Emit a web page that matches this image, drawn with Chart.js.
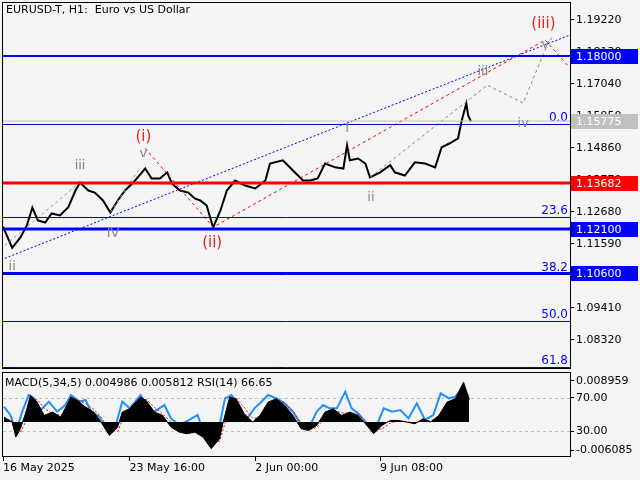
<!DOCTYPE html>
<html><head><meta charset="utf-8">
<script src="https://cdn.jsdelivr.net/npm/chart.js@4/dist/chart.umd.min.js"></script>
<style>
body{margin:0;background:#f4f4f4;width:640px;height:480px;overflow:hidden}
#main{position:absolute;left:0;top:0}
#sub{position:absolute;left:0;top:370px}
</style></head><body>
<canvas id="main" width="640" height="370"></canvas>
<canvas id="sub" width="640" height="110"></canvas>
<script>
// hourly bar index / close price
var priceBars = [0,10,19,26,32,38,46,53,62,71,79,84,93,100,109,117,125,133,142,155,162,171,179,184,193,202,209,215,222,229,237,244,253,264,275,286,291,305,316,327,335,343,351,362,371,375,378,387,395,400,411,422,427,438,449,460,471,478,487,496,500,505,507,510];
var prices = [1.1218,1.1146,1.1181,1.1222,1.1283,1.1239,1.1232,1.1263,1.1256,1.1283,1.1341,1.1368,1.1341,1.1334,1.1307,1.1266,1.1307,1.1341,1.1368,1.1416,1.1382,1.1382,1.1403,1.1365,1.1341,1.1334,1.1314,1.1307,1.1290,1.1215,1.1273,1.1341,1.1375,1.1358,1.1348,1.1375,1.1433,1.1444,1.1409,1.1375,1.1375,1.1382,1.1433,1.1420,1.1416,1.1495,1.1444,1.1450,1.1433,1.1386,1.1403,1.1427,1.1403,1.1392,1.1437,1.1433,1.1420,1.1488,1.1502,1.1519,1.1580,1.1638,1.1597,1.1577];

var macdBars = [1,10,14,19,25,30,37,45,54,63,74,81,90,99,108,116,125,130,138,150,156,165,174,183,192,200,209,218,227,236,240,247,254,263,272,280,289,298,307,316,325,333,342,351,360,369,378,387,395,404,413,422,431,440,449,458,466,475,484,493,502,508];
var macdHist = [1.09,0,-3.27,-1.45,2.18,5.82,4.36,1.45,2.18,1.09,5.45,4.73,3.27,2.18,-0.36,-2.91,-1.09,2.18,2.91,5.45,4.73,2.18,1.45,-1.09,-2.18,-2.54,-2.18,-3.27,-5.8,-3.64,0,5.45,5.09,1.82,0,1.45,4.36,5.09,3.64,1.45,-1.45,-1.82,-0.73,2.18,2.91,1.45,2.18,1.45,-0.36,-2.54,-0.73,0.36,0.36,0,-0.36,0.73,0,1.45,4.36,5.09,8.7,5.0];
var macdSignal = [0.6,0.4,-1.8,-2.2,0.2,3.8,5.0,3.0,1.8,1.5,3.8,4.9,4.0,2.8,0.8,-1.8,-2.0,0.4,2.4,4.4,5.0,3.2,1.8,0.0,-1.6,-2.4,-2.3,-2.8,-4.2,-4.2,-1.6,3.4,5.2,3.2,0.8,0.9,3.2,4.8,4.2,2.4,-0.2,-1.6,-1.2,1.0,2.6,2.0,1.9,1.7,0.2,-1.8,-1.5,-0.2,0.3,0.1,-0.2,0.4,0.3,0.9,3.2,4.8,7.2,5.8];
var rsiBars = [1,8,14,21,28,34,41,50,59,68,74,83,90,96,105,114,123,130,138,150,156,165,176,183,192,203,212,218,227,236,242,249,258,265,274,280,289,298,307,316,325,333,342,349,356,364,373,380,387,395,402,409,415,424,433,442,451,460,469,477,486,493,502,508];
var rsiValues = [59.4,49.4,29.3,53.4,73.5,69.5,55.4,65.5,53.4,61.4,73.5,65.5,67.5,53.4,47.4,29.3,37.3,65.5,57.4,73.5,61.4,53.4,61.4,45.4,37.3,43.4,49.4,31.3,39.4,37.3,69.5,73.5,59.4,43.4,57.4,63.5,73.5,69.5,63.5,53.4,37.3,33.3,53.4,61.4,57.4,57.4,77.5,57.4,51.4,41.4,33.3,41.4,57.4,53.4,55.4,45.4,63.5,43.4,49.4,75.5,69.5,71.5,83.5,67.5];

var priceTicks = [1.0832,1.0941,1.1050,1.1159,1.1268,1.1377,1.1486,1.1595,1.1704,1.1813,1.1922];
var timeTicks = [0,138,275,411];
var timeLabels = ['16 May 2025','23 May 16:00','2 Jun 00:00','9 Jun 08:00'];

// wave markup lines: [bar, price]
var channelLine = [[2,1.1110],[618,1.1871]];
var redWave = [[155,1.1485],[229,1.1216],[591,1.1854],[616,1.1765]];
var grayProjection = [[400,1.1386],[528,1.1700],[567,1.1639],[593,1.1837],[600,1.1870]];
var grayWave1 = [[2,1.1154],[84,1.1369]];
var grayWave2 = [[117,1.1267],[149,1.1417]];
var waveLabels = [
  [10,1.1082,'ii','#8a7f70',13],[84,1.1427,'iii','#8a7f70',13],[120,1.1195,'IV','#8a8a8a',13],
  [153,1.1523,'(i)','#e8231e',15],[153,1.1468,'v','#8a7f70',13],[228,1.1161,'(ii)','#e8231e',15],
  [375,1.1553,'I','#7b9a90',13],[401,1.1318,'ii','#6f948a',13],[523,1.1745,'iii','#8a7f70',13],
  [567,1.1570,'iv','#7d8fa0',13],[591,1.1837,'v','#8a8a8a',13],[589,1.1908,'(iii)','#e8231e',15]
];
// levels: price, colour, width, box colour
var levelLines = [
  [1.18000,'#0000ff',2,'#0000ff'],[1.15775,'#c0c0c0',1,'#c0c0c0'],[1.13682,'#ff0000',3,'#ff0000'],
  [1.12100,'#0000ff',3,'#0000ff'],[1.10600,'#0000ff',2,'#0000ff']
];
var fibLevels = [[1.1568,'0.0'],[1.1250,'23.6'],[1.1056,'38.2'],[1.0896,'50.0'],[1.0739,'61.8']];

var FONT = 'DejaVu Sans';
function pts(a){ return a.map(function(p){ return {x:p[0], y:p[1]}; }); }
function zip(xs, ys, k){ return xs.map(function(x,i){ return {x:x, y:ys[i]*(k||1)}; }); }
function noEdgePad(s){ s.width=70; s.paddingTop=0; s.paddingBottom=0; }

var mainOverlay = {
  id:'mainOverlay',
  beforeDraw: function(c){
    var ctx=c.ctx; ctx.save(); ctx.fillStyle='#f4f4f4'; ctx.fillRect(0,0,c.width,c.height); ctx.restore();
  },
  afterDatasetsDraw: function(c){
    var ctx=c.ctx, a=c.chartArea, ys=c.scales.y, xs=c.scales.x;
    ctx.save();
    fibLevels.forEach(function(f){
      var y=Math.round(ys.getPixelForValue(f[0]))+0.5;
      ctx.strokeStyle='#0000cc'; ctx.lineWidth=1;
      ctx.beginPath(); ctx.moveTo(a.left,y); ctx.lineTo(a.right,y); ctx.stroke();
      ctx.fillStyle='#0000ff'; ctx.font='12px '+FONT; ctx.textAlign='right'; ctx.textBaseline='bottom';
      ctx.fillText(f[1], a.right-2, y-1);
    });
    levelLines.forEach(function(l){
      var y=Math.round(ys.getPixelForValue(l[0]));
      ctx.strokeStyle=l[1]; ctx.lineWidth=l[2];
      ctx.beginPath(); ctx.moveTo(a.left,y); ctx.lineTo(a.right,y); ctx.stroke();
      ctx.fillStyle=l[3]; ctx.fillRect(a.right+1,y-7,67,15);
      ctx.fillStyle='#ffffff'; ctx.font='11px '+FONT; ctx.textAlign='left'; ctx.textBaseline='middle';
      ctx.fillText(l[0].toFixed(5), a.right+6, y+1);
    });
    waveLabels.forEach(function(w){
      ctx.fillStyle=w[3]; ctx.font=w[4]+'px '+FONT; ctx.textAlign='center'; ctx.textBaseline='middle';
      ctx.fillText(w[2], xs.getPixelForValue(w[0]), ys.getPixelForValue(w[1]));
    });
    ctx.strokeStyle='#000'; ctx.lineWidth=1;
    ctx.strokeRect(a.left-0.5,a.top-0.5,a.right-a.left+1,a.bottom-a.top+1);
    ctx.fillStyle='#000'; ctx.font='11px '+FONT; ctx.textAlign='left'; ctx.textBaseline='top';
    ctx.fillText('EURUSD-T, H1:  Euro vs US Dollar', 6, 5);
    ctx.restore();
  }
};

new Chart(document.getElementById('main'), {
  type:'line',
  data:{ datasets:[
    {data:pts(channelLine), borderColor:'#0000ff', borderWidth:1, borderDash:[2,2], pointRadius:0},
    {data:pts(redWave), borderColor:'#ff0000', borderWidth:1, borderDash:[3,3], pointRadius:0},
    {data:pts(grayProjection), borderColor:'#888', borderWidth:1, borderDash:[3,3], pointRadius:0},
    {data:pts(grayWave1), borderColor:'#999', borderWidth:1, borderDash:[3,3], pointRadius:0},
    {data:pts(grayWave2), borderColor:'#999', borderWidth:1, borderDash:[3,3], pointRadius:0},
    {data:zip(priceBars, prices), borderColor:'#000', borderWidth:2, pointRadius:0, tension:0}
  ]},
  options:{
    responsive:false, animation:false, clip:true,
    layout:{padding:{left:3,top:3,bottom:2}},
    plugins:{legend:{display:false}, tooltip:{enabled:false}},
    scales:{
      x:{type:'linear', min:0, max:618, display:false},
      y:{position:'right', min:1.07363, max:1.19799,
        afterFit:noEdgePad,
        afterBuildTicks:function(s){ s.ticks=priceTicks.map(function(v){return {value:v};}); },
        border:{color:'#000'},
        grid:{drawOnChartArea:false, tickLength:4, color:'#000'},
        ticks:{color:'#000', font:{family:FONT,size:11}, padding:2, callback:function(v){ return v.toFixed(5); }}
      }
    }
  },
  plugins:[mainOverlay]
});

var subOverlay = {
  id:'subOverlay',
  beforeDraw: function(c){
    var ctx=c.ctx; ctx.save(); ctx.fillStyle='#f4f4f4'; ctx.fillRect(0,0,c.width,c.height); ctx.restore();
  },
  beforeDatasetsDraw: function(c){
    var ctx=c.ctx, a=c.chartArea, r=c.scales.rsi;
    ctx.save(); ctx.strokeStyle='#c0c0c0'; ctx.setLineDash([3,3]); ctx.lineWidth=1;
    [70,30].forEach(function(v){
      var y=Math.round(r.getPixelForValue(v))+0.5;
      ctx.beginPath(); ctx.moveTo(a.left,y); ctx.lineTo(a.right,y); ctx.stroke();
    });
    ctx.restore();
  },
  afterDatasetsDraw: function(c){
    var ctx=c.ctx, a=c.chartArea;
    ctx.save(); ctx.strokeStyle='#000'; ctx.lineWidth=1;
    ctx.strokeRect(a.left-0.5,a.top-0.5,a.right-a.left+1,a.bottom-a.top+1);
    ctx.fillStyle='#000'; ctx.font='11px '+FONT; ctx.textAlign='left'; ctx.textBaseline='top';
    ctx.fillText('MACD(5,34,5) 0.004986 0.005812 RSI(14) 66.65', 5, 8);
    ctx.restore();
  }
};

var rsiTickVals = [90.4,70,30,7.2];
var rsiTickText = {'90.4':'0.008959','70':'70.00','30':'30.00','7.2':'-0.006085'};
new Chart(document.getElementById('sub'), {
  type:'line',
  data:{ datasets:[
    {data:zip(macdBars, macdHist, 0.001), yAxisID:'macd', borderColor:'#000', borderWidth:1, backgroundColor:'#000', fill:'origin', pointRadius:0},
    {data:zip(macdBars, macdSignal, 0.001), yAxisID:'macd', borderColor:'#ff0000', borderWidth:1, borderDash:[2,2], pointRadius:0},
    {data:zip(rsiBars, rsiValues), yAxisID:'rsi', borderColor:'#1e90ff', borderWidth:2, pointRadius:0}
  ]},
  options:{
    responsive:false, animation:false,
    layout:{padding:{left:3,top:3}},
    plugins:{legend:{display:false}, tooltip:{enabled:false}},
    scales:{
      x:{type:'linear', min:0, max:618,
        afterFit:function(s){ s.height=24; s.paddingLeft=0; s.paddingRight=0; },
        afterBuildTicks:function(s){ s.ticks=timeTicks.map(function(v){return {value:v};}); },
        border:{color:'#000'},
        grid:{drawOnChartArea:false, tickLength:5, color:'#000'},
        ticks:{color:'#000', align:'start', maxRotation:0, autoSkip:false, font:{family:FONT,size:11}, padding:1,
          callback:function(v){ return timeLabels[timeTicks.indexOf(v)]; }}
      },
      macd:{display:false, min:-0.00739, max:0.0107},
      rsi:{position:'right', min:0, max:100,
        afterFit:noEdgePad,
        afterBuildTicks:function(s){ s.ticks=rsiTickVals.map(function(v){return {value:v};}); },
        border:{color:'#000'},
        grid:{drawOnChartArea:false, tickLength:4, color:'#000'},
        ticks:{color:'#000', font:{family:FONT,size:11}, padding:2, callback:function(v){ return rsiTickText[String(v)]; }}
      }
    }
  },
  plugins:[subOverlay]
});
</script>
</body></html>
